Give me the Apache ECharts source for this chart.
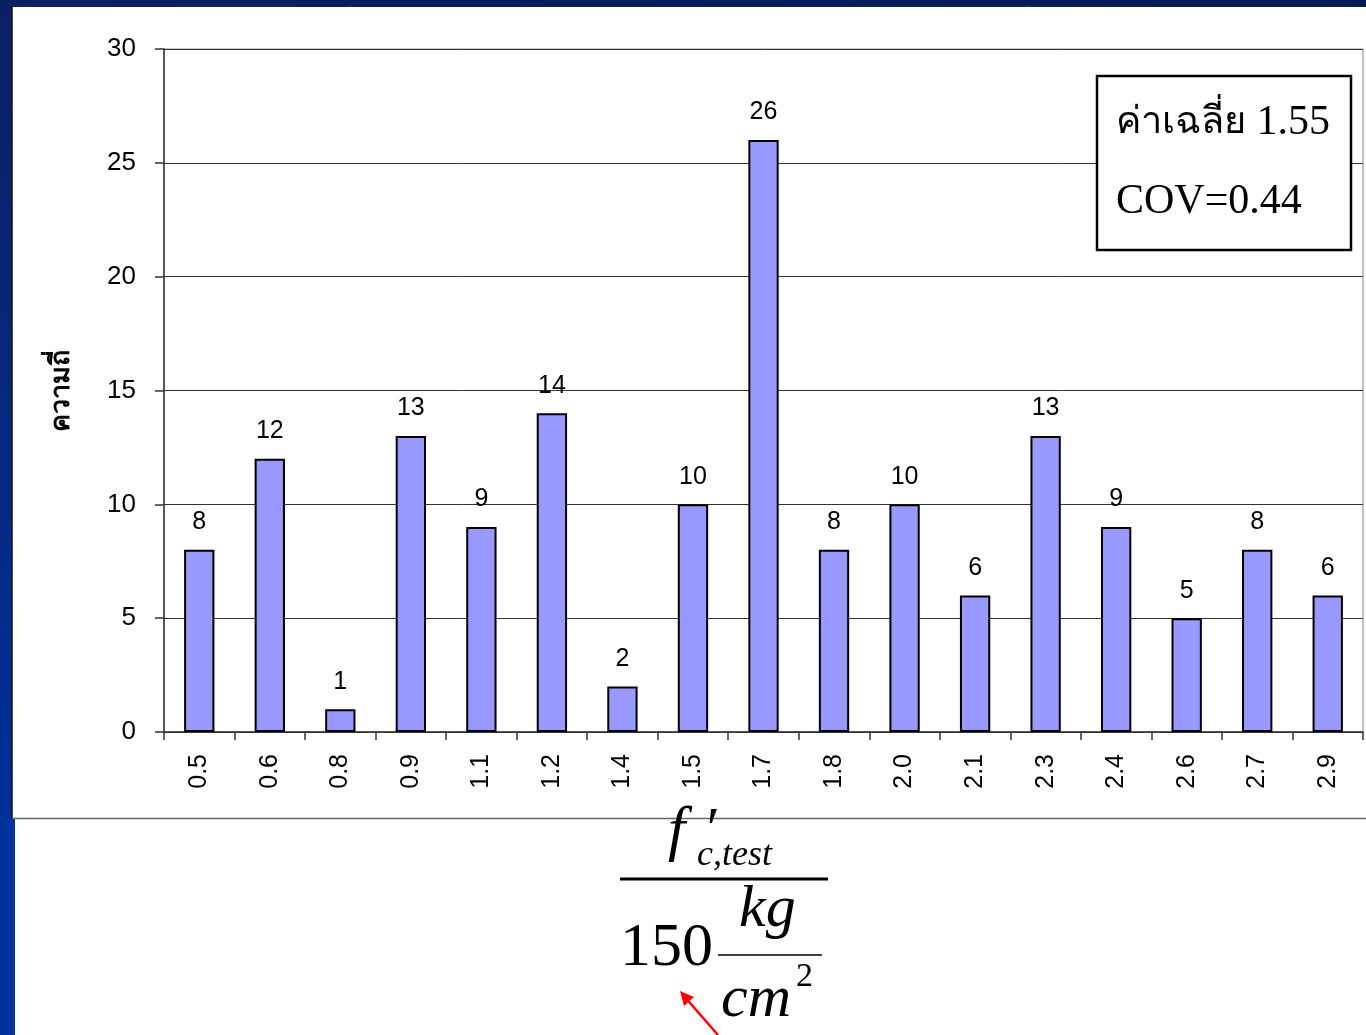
<!DOCTYPE html>
<html>
<head>
<meta charset="utf-8">
<script src="https://cdn.jsdelivr.net/npm/echarts@6/dist/echarts.min.js"></script>
<style>
html,body{margin:0;padding:0;background:#fff;}
#chart{width:1366px;height:1035px;}
</style>
</head>
<body>
<div id="chart"></div>
<script>
const categories = ['0.5','0.6','0.8','0.9','1.1','1.2','1.4','1.5','1.7','1.8','2.0','2.1','2.3','2.4','2.6','2.7','2.9'];
const frequency = [8,12,1,13,9,14,2,10,26,8,10,6,13,9,5,8,6];
const yTicks = [0,5,10,15,20,25,30];
const yAxisName = 'ความถี่';
const boxThai = 'ค่าเฉลี่ย';
const boxMean = '1.55';
const boxLine2 = 'COV=0.44';

const chart = echarts.init(document.getElementById('chart'), null, {renderer:'canvas'});

const serif = '"Liberation Serif","DejaVu Serif",serif';
const sans = 'Arial, "Liberation Sans", sans-serif';

const option = {
  backgroundColor: '#ffffff',
  animation: false,
  grid: {
    left: 164, top: 49, right: 3, bottom: 303,
    show: true, borderColor: '#888888', borderWidth: 1, backgroundColor: 'transparent'
  },
  xAxis: {
    type: 'category',
    data: categories,
    axisLine: {lineStyle: {color: '#333333', width: 1.5}},
    axisTick: {show: true, alignWithLabel: false, length: 8, lineStyle: {color: '#333333', width: 1.5}},
    axisLabel: {rotate: 90, fontSize: 25, color: '#000', fontFamily: sans, margin: 22},
    splitLine: {show: false}
  },
  yAxis: {
    type: 'value',
    min: yTicks[0], max: yTicks[yTicks.length-1], interval: 5,
    name: yAxisName,
    nameLocation: 'middle',
    nameGap: 89,
    nameTextStyle: {fontSize: 27, fontWeight: 'bold', color: '#000', fontFamily: sans},
    axisLine: {show: true, lineStyle: {color: '#333333', width: 1.5}},
    axisTick: {show: true, inside: false, length: 9, lineStyle: {color: '#333333', width: 1.5}},
    axisLabel: {fontSize: 26, color: '#000', fontFamily: sans, margin: 28},
    splitLine: {show: true, lineStyle: {color: '#333333', width: 1}}
  },
  series: [{
    type: 'bar',
    data: frequency,
    barWidth: '43%',
    itemStyle: {color: '#9999ff', borderColor: '#000000', borderWidth: 2},
    label: {show: true, position: 'top', distance: 15, fontSize: 25, color: '#000', fontFamily: sans}
  }],
  graphic: [
    {type:'rect', silent:true, z:-10, shape:{x:0,y:0,width:1366,height:6},
     style:{fill:new echarts.graphic.LinearGradient(0,0,1,0,[{offset:0,color:'#0b1f63'},{offset:1,color:'#001a55'}])}},
    {type:'rect', silent:true, z:-10, shape:{x:0,y:0,width:12,height:818},
     style:{fill:new echarts.graphic.LinearGradient(0,0,0,1,[{offset:0,color:'#0b1f63'},{offset:1,color:'#00309a'}])}},
    {type:'rect', silent:true, z:-10, shape:{x:0,y:818,width:15,height:217},
     style:{fill:'#00339e'}},
    {type:'line', silent:true, shape:{x1:12,y1:6,x2:12,y2:819}, style:{stroke:'#111111',lineWidth:1.5}},
    {type:'line', silent:true, shape:{x1:12,y1:6.5,x2:1366,y2:6.5}, style:{stroke:'#222222',lineWidth:1}},
    {type:'line', silent:true, shape:{x1:12,y1:818.5,x2:1366,y2:818.5}, style:{stroke:'#666666',lineWidth:1.5}},
    {type:'rect', z:10, shape:{x:1097,y:76,width:254,height:174},
     style:{fill:'#ffffff',stroke:'#000000',lineWidth:2.5}},
    {type:'text', z:11, left:1116, top:102,
     style:{text:'{t|' + boxThai + '}{n| ' + boxMean + '}',
       rich:{t:{font:'38px ' + serif, fill:'#000'}, n:{font:'42px ' + serif, fill:'#000'}}}},
    {type:'text', z:11, left:1116, top:181,
     style:{text:boxLine2, font:'42px ' + serif, fill:'#000'}},
    {type:'text', z:11, left:668, top:802,
     style:{text:'f', font:'italic 62px ' + serif, fill:'#000'}},
    {type:'text', z:11, left:703, top:802,
     style:{text:'′', font:'italic 60px ' + serif, fill:'#000'}},
    {type:'text', z:11, left:697, top:838,
     style:{text:'c,test', font:'italic 36px ' + serif, fill:'#000'}},
    {type:'line', z:11, shape:{x1:620,y1:879,x2:828,y2:879}, style:{stroke:'#000',lineWidth:3}},
    {type:'text', z:11, left:620, top:918,
     style:{text:'150', font:'62px ' + serif, fill:'#000'}},
    {type:'text', z:11, left:739, top:880,
     style:{text:'kg', font:'italic 60px ' + serif, fill:'#000'}},
    {type:'line', z:11, shape:{x1:718,y1:955,x2:822,y2:955}, style:{stroke:'#000',lineWidth:1.5}},
    {type:'text', z:11, left:721, top:970,
     style:{text:'cm', font:'italic 60px ' + serif, fill:'#000'}},
    {type:'text', z:11, left:796, top:960,
     style:{text:'2', font:'34px ' + serif, fill:'#000'}},
    {type:'line', z:11, shape:{x1:718,y1:1035,x2:684,y2:996}, style:{stroke:'#ff0000',lineWidth:2.5}},
    {type:'polygon', z:11, shape:{points:[[680,991],[684,1006],[694,997]]}, style:{fill:'#ff0000'}}
  ]
};
chart.setOption(option);
</script>
</body>
</html>
